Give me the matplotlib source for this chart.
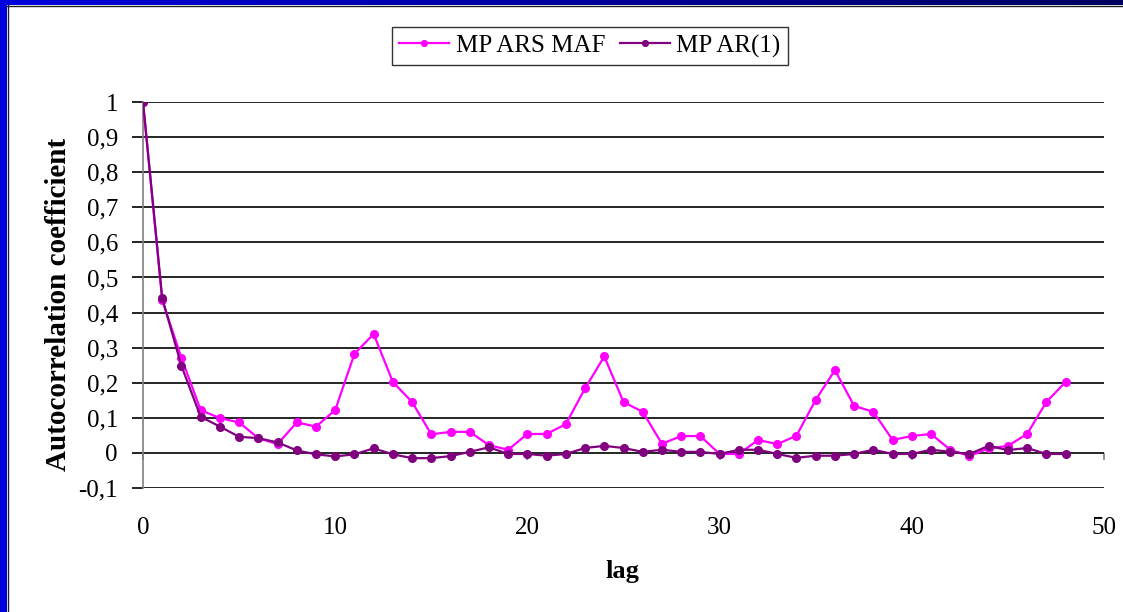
import numpy as np
import matplotlib
matplotlib.use('Agg')
import matplotlib.pyplot as plt
from matplotlib.patches import Rectangle
from matplotlib.ticker import FuncFormatter
from matplotlib.colors import LinearSegmentedColormap

plt.rcParams['font.family'] = ['Liberation Serif', 'DejaVu Serif']

# data
lags = list(range(49))
maf = [1.0, 0.435, 0.271, 0.122, 0.099, 0.087, 0.042, 0.025, 0.087, 0.075,
       0.122, 0.282, 0.339, 0.202, 0.145, 0.053, 0.060, 0.060, 0.022, 0.009,
       0.054, 0.054, 0.082, 0.184, 0.275, 0.145, 0.117, 0.026, 0.048, 0.048,
       -0.003, -0.003, 0.037, 0.025, 0.049, 0.151, 0.236, 0.134, 0.117, 0.037,
       0.048, 0.054, 0.009, -0.009, 0.013, 0.020, 0.054, 0.145, 0.202]
ar1 = [1.0, 0.441, 0.248, 0.103, 0.075, 0.046, 0.042, 0.030, 0.007, -0.004,
       -0.010, -0.004, 0.013, -0.004, -0.015, -0.015, -0.009, 0.003, 0.016, -0.003,
       -0.003, -0.008, -0.003, 0.014, 0.020, 0.014, 0.003, 0.009, 0.003, 0.003,
       -0.003, 0.009, 0.009, -0.003, -0.014, -0.008, -0.008, -0.003, 0.009, -0.003,
       -0.003, 0.009, 0.003, -0.003, 0.020, 0.008, 0.014, -0.003, -0.003]
series_names = ['MP ARS MAF', 'MP AR(1)']
yticks = [-0.1, 0, 0.1, 0.2, 0.3, 0.4, 0.5, 0.6, 0.7, 0.8, 0.9, 1.0]
xticks = [0, 10, 20, 30, 40, 50]

W, H = 1123, 612
fig = plt.figure(figsize=(W / 100, H / 100), dpi=100)

# slide frame: blue strip on the left, gradient bar on top
fig.patches.append(Rectangle((0, 0), 7 / W, 1, transform=fig.transFigure,
                             facecolor='#0000DC', edgecolor='none', zorder=0))
fig.add_artist(plt.Line2D([7.5 / W, 7.5 / W], [0, 1 - 5 / H], color='#202020', lw=1))
bar = fig.add_axes([0, 1 - 5 / H, 1, 5 / H])
grad = np.linspace(0, 1, 256)[None, :]
cmap = LinearSegmentedColormap.from_list('bar', ['#0000DC', '#000060'])
bar.imshow(grad, aspect='auto', cmap=cmap)
bar.axis('off')
fig.add_artist(plt.Line2D([7 / W, 1], [1 - 5.5 / H, 1 - 5.5 / H], color='#202020', lw=1))

# main plot
ax = fig.add_axes([143 / W, (H - 488) / H, (1104 - 143) / W, (488 - 102) / H])
ax.plot(lags, maf, color='#FF00FF', lw=1.6, marker='o', ms=5.5, label=series_names[0], zorder=3)
ax.plot(lags, ar1, color='#800080', lw=1.6, marker='o', ms=5.5, label=series_names[1], zorder=4)

ax.set_xlim(0, 50)
ax.set_ylim(-0.1, 1.0)
ax.set_yticks(yticks)
ax.yaxis.set_major_formatter(FuncFormatter(lambda v, p: f"{v:g}".replace('.', ',')))
ax.set_xticks(xticks)
ax.yaxis.grid(True, color='black', lw=1.2)
ax.set_axisbelow(True)
for s in ['top', 'right', 'bottom']:
    ax.spines[s].set_visible(False)
ax.spines['left'].set_color('#808080')
ax.spines['left'].set_linewidth(1.2)
ax.tick_params(axis='y', length=8, width=1.2, color='black', labelsize=18, pad=10)
ax.tick_params(axis='x', length=0, labelsize=18, pad=21)

# x axis line with ticks at y = 0
sec = ax.secondary_xaxis(0.1 / 1.1)
sec.set_xticks(xticks)
sec.set_xticklabels([])
sec.spines['bottom'].set_visible(False)
sec.tick_params(length=5, width=1.2, color='#808080')

ax.set_xlabel('lag', fontsize=19, fontweight='bold')
ax.xaxis.set_label_coords((622 - 143) / 961, (488 - 560) / 386)
ax.set_ylabel('Autocorrelation coefficient', fontsize=21, fontweight='bold')
ax.yaxis.set_label_coords((72 - 143) / 961, (488 - 304) / 386)

leg = fig.legend(loc='center', bbox_to_anchor=(590 / W, 1 - 46 / H), ncol=2,
                 fontsize=18, frameon=True, fancybox=False, edgecolor='black',
                 handlelength=2.0, handletextpad=0.25, columnspacing=0.6,
                 markerscale=0.75, borderpad=0.3)
leg.get_frame().set_linewidth(1.0)

fig.savefig('out.png', dpi=100)
